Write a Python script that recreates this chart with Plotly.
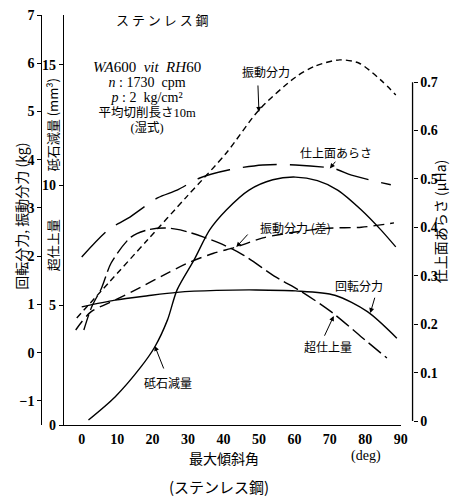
import plotly.graph_objects as go

# ---- data -------------------------------------------------------------
# 回転分力 (kg)
kaiten_deg = [0, 9.4, 18.6, 26.9, 38, 49.2, 60.3, 71.4, 80.6, 88.9]
kaiten_kg = [0.95, 1.09, 1.18, 1.25, 1.29, 1.30, 1.28, 1.19, 0.85, 0.30]

# 振動分力 (kg)
shindo_deg = [-1.4, 7.5, 18.6, 29.7, 40.8, 50, 60.3, 65.8, 72.8, 78.3, 84.4, 88.6]
shindo_kg = [0.72, 1.44, 2.34, 3.24, 4.14, 5.03, 5.71, 5.94, 6.07, 6.00, 5.65, 5.34]

# 振動分力 (差) (kg)
sa_deg = [-1.7, 2.5, 9.4, 16.7, 24.2, 30.6, 37.2, 43.6, 51.1, 60.3, 69.4, 78.9, 88.1]
sa_kg = [0.47, 0.84, 1.09, 1.36, 1.65, 1.88, 2.06, 2.19, 2.38, 2.50, 2.58, 2.60, 2.69]

# 超仕上量
cho_deg = [0.6, 2.8, 5.6, 8.3, 13.9, 18.6, 23.3, 27.8, 34.4, 38.9, 45.6, 54.7,
           62.2, 70.8, 78.9, 86.1]
cho_val = [3.96, 4.92, 5.71, 6.75, 7.83, 8.13, 8.21, 8.13, 7.83, 7.58, 7.08, 6.17,
           5.54, 4.67, 3.67, 2.79]

# 砥石減量 (mm3)
toishi_deg = [1.9, 9.4, 16.7, 20.6, 24.2, 26.9, 31.7, 36.1, 40.8, 47.2, 53.9,
              60.3, 66.5, 72.2, 78.9, 84.4, 88.6]
toishi_mm3 = [0.21, 1.17, 2.42, 3.25, 4.38, 5.63, 6.88, 8.13, 8.96, 9.79, 10.22,
              10.33, 10.18, 9.79, 8.96, 8.13, 7.42]

# 仕上面あらさ (μHa)
arasa_deg = [0, 7.5, 13.1, 21.4, 26.9, 33.3, 41.7, 51.1, 60.3, 71.4, 76.1, 87.2]
arasa_uha = [0.339, 0.395, 0.419, 0.461, 0.477, 0.502, 0.519, 0.529, 0.529,
             0.521, 0.508, 0.488]

x_ticks = [0, 10, 20, 30, 40, 50, 60, 70, 80, 90]
kg_ticks = [-1, 0, 1, 2, 3, 4, 5, 6, 7]
mm3_ticks = [0, 5, 10, 15]
uha_ticks = [0, 0.1, 0.2, 0.3, 0.4, 0.5, 0.6, 0.7]
uha_labels = ["0", "0.1", "0.2", "0.3", "0.4", "0.5", "0.6", "0.7"]

# ---- styling ----------------------------------------------------------
SERIF = "Liberation Serif, Noto Sans CJK JP"
CJK = "Noto Sans CJK JP, Liberation Serif"
INK = "black"
LW = 1.4

fig = go.Figure()


def curve(xs, ys, axis, dash):
    fig.add_trace(go.Scatter(
        x=xs, y=ys, yaxis=axis, mode="lines", showlegend=False,
        line=dict(color=INK, width=LW, dash=dash, shape="spline", smoothing=0.8),
        hoverinfo="skip"))


curve(kaiten_deg, kaiten_kg, "y2", "solid")
curve(shindo_deg, shindo_kg, "y2", "6px,4px")
curve(sa_deg, sa_kg, "y2", "11px,6px")
curve(cho_deg, cho_val, "y", "16px,5px")
curve(toishi_deg, toishi_mm3, "y", "solid")
curve(arasa_deg, arasa_uha, "y3", "34px,13px")

tickfont = dict(family=SERIF, size=14, color=INK, weight="bold")

fig.update_layout(
    width=455, height=500, autosize=False,
    margin=dict(l=0, r=0, t=15, b=75),
    paper_bgcolor="white", plot_bgcolor="white",
    xaxis=dict(domain=[0.14286, 0.89451], range=[-5, 90], tickvals=x_ticks,
               showline=True, linecolor=INK, linewidth=1.3, ticks="",
               ticklabelstandoff=1, tickfont=tickfont, showgrid=False,
               zeroline=False, anchor="y"),
    yaxis=dict(range=[0, 17.083], tickvals=mm3_ticks, showline=True,
               linecolor=INK, linewidth=1.3, ticks="outside", ticklen=4,
               tickcolor=INK, tickfont=tickfont, showgrid=False,
               zeroline=False, anchor="x"),
    yaxis2=dict(range=[-1.5, 7.0], tickvals=kg_ticks, overlaying="y",
                anchor="free", position=0.0923, side="left", showline=True,
                linecolor=INK, linewidth=1.3, ticks="outside", ticklen=4,
                tickcolor=INK, tickfont=tickfont, showgrid=False,
                zeroline=False),
    yaxis3=dict(range=[-0.00826, 0.8388], tickvals=uha_ticks,
                ticktext=uha_labels, overlaying="y", anchor="free",
                position=0.92088, side="right", showline=False, ticks="outside",
                ticklen=4, tickcolor=INK, tickfont=tickfont, showgrid=False,
                zeroline=False),
)

# right-hand scale line only spans 0 .. 0.7
fig.add_shape(type="line", xref="paper", yref="y3", x0=0.92088, x1=0.92088,
              y0=0, y1=0.7, line=dict(color=INK, width=1.3))

ann = []

# axis titles
ann.append(dict(text="回転分力, 振動分力 (kg)", x=0.0462, y=0.5098, textangle=-90,
                font=dict(family=CJK, size=14)))
ann.append(dict(text="砥石減量 (mm³)", x=0.1165, y=0.7317, textangle=-90,
                font=dict(family=CJK, size=13)))
ann.append(dict(text="超仕上量", x=0.1165, y=0.439, textangle=-90,
                font=dict(family=CJK, size=13)))
ann.append(dict(text="仕上面あらさ (μHa)", x=0.9824, y=0.495, textangle=-90,
                font=dict(family=CJK, size=14)))
ann.append(dict(text="最大傾斜角", x=0.501, y=-0.0805, font=dict(family=CJK, size=14)))
ann.append(dict(text="(deg)", x=0.8176, y=-0.0757, font=dict(family=SERIF, size=14)))
ann.append(dict(text="(ステンレス鋼)", x=0.488, y=-0.151, font=dict(family=CJK, size=15)))
for a in ann:
    a.update(xref="paper", yref="paper", showarrow=False,
             xanchor="center", yanchor="middle")
    a["font"]["color"] = INK

# grinding conditions block
conditions = "<br>".join([
    "<span style='font-size:15px'><i>WA</i>600  <i>vit  RH</i>60</span>",
    "<span style='font-size:14px'><i>n</i> : 1730  cpm</span>",
    "<span style='font-size:14px'><i>p</i> : 2  kg/cm²</span>",
    "<span style='font-size:12.5px'>平均切削長さ10m</span>",
    "<span style='font-size:12.5px'>(湿式)</span>",
])

# text placed inside the plotting area (x in deg, y on the kg scale)
inner = [
    ("ス テ ン レ ス 鋼", 22.8, 6.90, CJK, 13),
    (conditions, 18.4, 5.31, SERIF, 11.6),
    ("振動分力", 51.9, 5.82, CJK, 12),
    ("仕上面あらさ", 71.7, 4.14, CJK, 12),
    ("振動分力 (差)", 60.3, 2.60, CJK, 12),
    ("回転分力", 78.3, 1.40, CJK, 12),
    ("超仕上量", 69.4, 0.12, CJK, 12),
    ("砥石減量", 24.2, -0.61, CJK, 12),
]
for text, x, y, fam, size in inner:
    ann.append(dict(text=text, x=x, y=y, xref="x", yref="y2", showarrow=False,
                    xanchor="center", yanchor="middle", align="center",
                    font=dict(family=fam, size=size, color=INK)))

# pointer arrows (head, tail) in deg / kg
arrows = [
    ((50.0, 4.99), (49.7, 5.57)),
    ((70.0, 3.82), (71.9, 3.99)),
    ((43.6, 2.19), (47.2, 2.48)),
    ((81.4, 0.82), (82.8, 1.17)),
    ((71.1, 0.76), (68.3, 0.32)),
    ((20.6, 0.14), (23.3, -0.36)),
]
for (hx, hy), (tx, ty) in arrows:
    ann.append(dict(text="", x=hx, y=hy, ax=tx, ay=ty, xref="x", yref="y2",
                    axref="x", ayref="y2", showarrow=True, arrowhead=2,
                    arrowsize=1, arrowwidth=1, arrowcolor=INK))

fig.update_layout(annotations=ann)

fig.write_html("out.html")
